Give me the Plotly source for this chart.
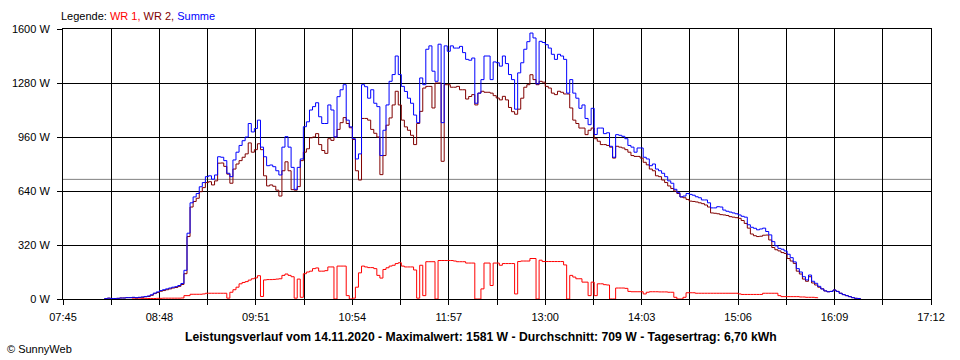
import plotly.graph_objects as go

DAY = "2020-11-14"

times = [
    "08:12","08:14","08:16","08:18","08:20","08:22","08:24","08:26","08:28","08:30","08:32","08:34",
    "08:36","08:38","08:40","08:42","08:44","08:46","08:48","08:50","08:52","08:54","08:56","08:58",
    "09:00","09:02","09:04","09:06","09:08","09:10","09:12","09:14","09:16","09:18","09:20","09:22",
    "09:24","09:26","09:28","09:30","09:32","09:34","09:36","09:38","09:40","09:42","09:44","09:46",
    "09:48","09:50","09:52","09:54","09:56","09:58",
    "10:00","10:02","10:04","10:06","10:08","10:10","10:12","10:14","10:16","10:18","10:20","10:22",
    "10:24","10:26","10:28","10:30","10:32","10:34","10:36","10:38","10:40","10:42","10:44","10:46",
    "10:48","10:50","10:52","10:54","10:56","10:58",
    "11:00","11:02","11:04","11:06","11:08","11:10","11:12","11:14","11:16","11:18","11:20","11:22",
    "11:24","11:26","11:28","11:30","11:32","11:34","11:36","11:38","11:40","11:42","11:44","11:46",
    "11:48","11:50","11:52","11:54","11:56","11:58",
    "12:00","12:02","12:04","12:06","12:08","12:10","12:12","12:14","12:16","12:18","12:20","12:22",
    "12:24","12:26","12:28","12:30","12:32","12:34","12:36","12:38","12:40","12:42","12:44","12:46",
    "12:48","12:50","12:52","12:54","12:56","12:58",
    "13:00","13:02","13:04","13:06","13:08","13:10","13:12","13:14","13:16","13:18","13:20","13:22",
    "13:24","13:26","13:28","13:30","13:32","13:34","13:36","13:38","13:40","13:42","13:44","13:46",
    "13:48","13:50","13:52","13:54","13:56","13:58",
    "14:00","14:02","14:04","14:06","14:08","14:10","14:12","14:14","14:16","14:18","14:20","14:22",
    "14:24","14:26","14:28","14:30","14:32","14:34","14:36","14:38","14:40","14:42","14:44","14:46",
    "14:48","14:50","14:52","14:54","14:56","14:58",
    "15:00","15:02","15:04","15:06","15:08","15:10","15:12","15:14","15:16","15:18","15:20","15:22",
    "15:24","15:26","15:28","15:30","15:32","15:34","15:36","15:38","15:40","15:42","15:44","15:46",
    "15:48","15:50","15:52","15:54","15:56","15:58",
    "16:00","16:02","16:04","16:06","16:08","16:10","16:12","16:14","16:16","16:18","16:20","16:22",
    "16:24","16:26",
]

# Summe (blue)
summe = [
    2, 5, 3, 3, 4, 6, 6, 8, 8, 10, 8, 10, 12, 15, 18, 25, 35, 42, 50, 55, 60, 65, 70, 73,
    80, 92, 170, 390, 570, 605, 625, 665, 690, 725, 730, 710, 735, 843, 840, 820, 745, 725, 824, 870,
    910, 938, 960, 1040, 990, 1010, 1060, 900, 843, 790,
    794, 784, 760, 735, 900, 962, 900, 780, 650, 780, 830, 1021, 1050, 1120, 1140, 1163, 1080, 1040,
    1040, 1150, 1120, 960, 1199, 1240, 1270, 1060, 1020, 950, 830, 860,
    1270, 1258, 1190, 1240, 1160, 1140, 850, 1000, 1150, 1290, 1330, 1440, 1330, 1260, 1230, 1190,
    1160, 1090, 1045, 1310, 1270, 1480, 1500, 1350, 1290, 1510, 1045, 1500, 1468, 1500,
    1487, 1487, 1497, 1460, 1420, 1415, 1428, 1160, 1220, 1300, 1440, 1440, 1300, 1405, 1400, 1380,
    1440, 1395, 1330, 1300, 1125, 1340, 1400, 1480, 1525, 1576, 1547, 1275, 1527, 1520,
    1507, 1487, 1450, 1420, 1450, 1440, 1420, 1220, 1300, 1220, 1190, 1130, 1150, 1070, 1033, 1130,
    975, 1013, 1013, 980, 985, 905, 840, 974, 970, 964, 950, 910, 900, 870,
    895, 895, 840, 830, 790, 800, 770, 760, 745, 725, 700, 686, 650, 630, 605, 610,
    625, 620, 615, 606, 600, 587, 587, 570, 540, 540, 547, 545, 527, 520,
    515, 510, 505, 498, 490, 485, 440, 425, 419, 410, 415, 420, 400, 380, 340, 315,
    300, 295, 285, 265, 245, 220, 180, 160, 132, 113, 142, 105, 93, 75,
    60, 48, 43, 45, 53, 45, 34, 26, 20, 14, 8, 4, 3, 2,
]

# WR 2 (dark red)
wr2 = [
    2, 5, 3, 3, 4, 6, 6, 8, 8, 9, 7, 9, 10, 13, 15, 22, 32, 38, 46, 50, 55, 60, 65, 68,
    75, 86, 150, 370, 545, 578, 597, 636, 660, 690, 695, 676, 700, 805, 806, 786, 740, 686, 770, 800,
    820, 840, 860, 925, 870, 885, 920, 885, 730, 670,
    676, 668, 645, 610, 760, 813, 760, 648, 645, 666, 820, 870, 890, 955, 960, 980, 915, 880,
    863, 950, 940, 960, 1005, 1045, 1075, 1040, 1015, 945, 760, 705,
    1070, 1070, 1060, 1005, 982, 960, 737, 850, 1030, 1073, 1150, 1231, 1150, 1060, 1020, 1000,
    970, 915, 1040, 1112, 1250, 1260, 1260, 1132, 1280, 1280, 816, 1270, 1270, 1255,
    1255, 1260, 1240, 1240, 1185, 1200, 1211, 1150, 1220, 1231, 1225, 1225, 1220, 1205, 1191, 1180,
    1201, 1180, 1135, 1110, 1095, 1125, 1190, 1255, 1270, 1329, 1300, 1270, 1290, 1285,
    1260, 1250, 1220, 1211, 1231, 1225, 1215, 1215, 1132, 1060, 1040, 1013, 1013, 974, 1000, 1013,
    950, 935, 915, 915, 910, 900, 835, 905, 900, 895, 885, 870, 850, 845,
    845, 835, 810, 795, 770, 760, 730, 725, 705, 690, 670, 655, 640, 625, 605, 600,
    590, 580, 578, 575, 570, 565, 557, 545, 510, 508, 505, 500, 498, 495,
    488, 485, 482, 478, 465, 448, 420, 385, 375, 370, 372, 378, 379, 350, 305, 292,
    285, 275, 270, 240, 225, 211, 165, 148, 118, 105, 132, 95, 83, 70,
    60, 48, 43, 45, 53, 45, 34, 26, 20, 14, 8, 4, 3, 2,
]

# WR 1 (red)
wr1 = [
    None, None, None, None, None, None, None, None, None, 1, 1, 1, 2, 2, 3, 3, 3, 4, 4, 5, 5, 5, 5, 5,
    5, 6, 20, 20, 28, 28, 28, 28, 30, 34, 34, 34, 34, 34, 34, 34, 5, 40, 55, 70,
    90, 98, 103, 112, 120, 125, 138, 15, 113, 115,
    115, 116, 118, 120, 140, 148, 140, 132, 5, 118, 10, 150, 160, 165, 180, 184, 165, 165,
    168, 190, 190, 0, 195, 195, 195, 20, 0, 5, 70, 155,
    195, 190, 186, 186, 180, 140, 124, 175, 185, 195, 200, 210, 215, 195, 190, 190,
    190, 172, 5, 200, 20, 221, 221, 221, 0, 228, 228, 228, 228, 228,
    225, 221, 221, 221, 213, 213, 213, 0, 0, 60, 213, 213, 80, 213, 213, 200,
    210, 210, 210, 210, 30, 222, 225, 225, 225, 240, 240, 0, 230, 222,
    222, 222, 222, 222, 222, 222, 202, 0, 140, 130, 120, 120, 100, 100, 20, 100,
    20, 90, 90, 85, 83, 0, 0, 65, 65, 65, 63, 45, 43, 43,
    43, 43, 30, 40, 43, 43, 43, 42, 42, 42, 40, 40, 10, 0, 0, 10,
    37, 37, 37, 34, 34, 34, 34, 34, 34, 34, 34, 34, 34, 34,
    34, 34, 34, 30, 27, 27, 27, 27, 27, 27, 27, 34, 34, 34, 34, 34,
    20, 14, 14, 14, 14, 14, 14, 12, 12, 10, 10, 10, 8, 5,
    None, None, None, None, None, None, None, None, None, None, None, None, None, None,
]

y_ticks = [0, 320, 640, 960, 1280, 1600]
y_tick_labels = ["0 W", "320 W", "640 W", "960 W", "1280 W", "1600 W"]
x_tick_labels = ["07:45", "08:48", "09:51", "10:54", "11:57", "13:00", "14:03", "15:06", "16:09", "17:12"]
avg_value = 709
title_text = ("Leistungsverlauf vom 14.11.2020 - Maximalwert: 1581 W - "
              "Durchschnitt: 709 W - Tagesertrag: 6,70 kWh")

FONT = "Liberation Sans, Arial, sans-serif"
x = [f"{DAY} {t}" for t in times]

fig = go.Figure()
fig.add_trace(go.Scatter(x=x, y=wr1, mode="lines", line=dict(color="#FF0000", width=1, shape="hv"),
                         name="WR 1", connectgaps=False))
fig.add_trace(go.Scatter(x=x, y=wr2, mode="lines", line=dict(color="#800000", width=1, shape="hv"),
                         name="WR 2"))
fig.add_trace(go.Scatter(x=x, y=summe, mode="lines", line=dict(color="#0000FF", width=1, shape="hv"),
                         name="Summe"))

fig.add_hline(y=avg_value, line=dict(color="#808080", width=1), layer="below")

fig.update_layout(
    width=960, height=360,
    margin=dict(l=60, r=29, t=29, b=61),
    paper_bgcolor="white", plot_bgcolor="white",
    showlegend=False,
    font=dict(family=FONT, size=11, color="black"),
)

fig.update_xaxes(
    type="date",
    range=[f"{DAY} {x_tick_labels[0]}", f"{DAY} {x_tick_labels[-1]}"],
    tickmode="array",
    tickvals=[f"{DAY} {t}" for t in x_tick_labels],
    ticktext=x_tick_labels,
    ticks="outside", ticklen=5, tickcolor="black", tickwidth=1,
    ticklabelstandoff=3,
    showline=True, linecolor="black", linewidth=1, mirror=True,
    showgrid=True, gridcolor="black", gridwidth=1,
    minor=dict(tick0=f"{DAY} {x_tick_labels[0]}", dtick=31.5 * 60 * 1000,
               showgrid=True, gridcolor="black", gridwidth=1,
               ticks="outside", ticklen=5, tickcolor="black"),
    tickfont=dict(family=FONT, size=11, color="black"),
    zeroline=False,
)
fig.update_yaxes(
    range=[0, 1600],
    tickmode="array", tickvals=y_ticks, ticktext=y_tick_labels,
    ticks="outside", ticklen=5, tickcolor="black", tickwidth=1,
    ticklabelstandoff=5,
    showline=True, linecolor="black", linewidth=1, mirror=True,
    showgrid=True, gridcolor="black", gridwidth=1,
    tickfont=dict(family=FONT, size=11, color="black"),
    zeroline=False,
)

fig.add_annotation(
    xref="paper", yref="paper", x=0, y=1, xanchor="left", yanchor="middle", yshift=13, xshift=-4,
    showarrow=False, font=dict(family=FONT, size=11),
    text=("Legende: <span style='color:#FF0000'>WR 1,</span> "
          "<span style='color:#800000'>WR 2,</span> "
          "<span style='color:#0000FF'>Summe</span>"),
)
fig.add_annotation(
    xref="paper", yref="paper", x=0.482, y=0, xanchor="center", yanchor="middle", yshift=-38,
    showarrow=False, font=dict(family=FONT, size=12.2, color="black"),
    text=f"<b>{title_text}</b>",
)
fig.add_annotation(
    xref="paper", yref="paper", x=-0.062, y=0, xanchor="left", yanchor="middle", yshift=-50, xshift=-4,
    showarrow=False, font=dict(family=FONT, size=11, color="black"),
    text="© SunnyWeb",
)

fig.write_html("out.html", config={"displayModeBar": False},
               post_script="document.body.style.margin='0';")
